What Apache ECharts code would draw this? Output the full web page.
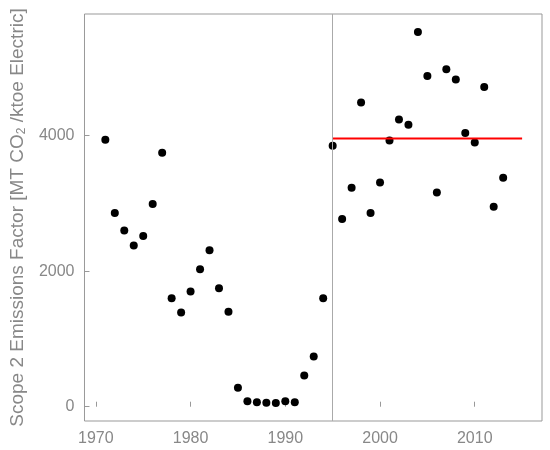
<!DOCTYPE html>
<html>
<head>
<meta charset="utf-8">
<script src="https://cdn.jsdelivr.net/npm/echarts@6/dist/echarts.min.js"></script>
<style>
	html, body { margin: 0; padding: 0; background: #fff; }
	#chart { width: 550px; height: 450px; }
</style>
</head>
<body>
<div id="chart"></div>
<script>
	// yearly emissions factor values
	const years = [1971, 1972, 1973, 1974, 1975, 1976, 1977, 1978, 1979, 1980,
		1981, 1982, 1983, 1984, 1985, 1986, 1987, 1988, 1989, 1990,
		1991, 1992, 1993, 1994, 1995, 1996, 1997, 1998, 1999, 2000,
		2001, 2002, 2003, 2004, 2005, 2006, 2007, 2008, 2009, 2010,
		2011, 2012, 2013];
	const factors = [3940, 2860, 2600, 2380, 2520, 2990, 3750, 1600, 1390, 1700,
		2030, 2310, 1750, 1400, 280, 80, 65, 60, 55, 80,
		65, 460, 740, 1600, 3850, 2770, 3230, 4490, 2860, 3310,
		3930, 4240, 4160, 5530, 4880, 3160, 4980, 4830, 4040, 3900,
		4720, 2950, 3380];
	const meanYears = [1995, 2015];
	const meanValue = 3960;
	const splitYear = 1995;
	const xTicks = [1970, 1980, 1990, 2000, 2010];
	const yTicks = [0, 2000, 4000];

	const gray = '#888';
	let chart = echarts.init(document.getElementById('chart'), null, {renderer: 'canvas'});

	let option = {
		animation: false,
		grid: {
			left: 82,
			right: 8,
			top: 14,
			bottom: 29,
			show: true,
			borderColor: '#999',
			borderWidth: 1,
			backgroundColor: 'transparent'
		},
		xAxis: {
			type: 'value',
			min: 1968.8,
			max: 2017.1,
			axisLine: { show: false },
			splitLine: { show: false },
			axisTick: {
				show: true,
				inside: true,
				length: 5,
				customValues: xTicks,
				lineStyle: { color: '#999' }
			},
			axisLabel: {
				customValues: xTicks,
				formatter: v => String(v),
				color: gray,
				fontSize: 16,
				fontFamily: 'Liberation Sans',
				margin: 10
			}
		},
		yAxis: {
			type: 'value',
			min: -211,
			max: 5796,
			name: '{t|Scope 2 Emissions Factor [MT CO}{sub|2}{t| /ktoe Electric]}',
			nameLocation: 'middle',
			nameGap: 54,
			nameTextStyle: {
				rich: {
					t: { fontSize: 19, color: gray, fontFamily: 'Liberation Sans' },
					sub: { fontSize: 12, color: gray, fontFamily: 'Liberation Sans', verticalAlign: 'bottom', padding: [9, 0, 0, 0] }
				}
			},
			axisLine: { show: false },
			splitLine: { show: false },
			axisTick: {
				show: true,
				inside: true,
				length: 5,
				customValues: yTicks,
				lineStyle: { color: '#999' }
			},
			axisLabel: {
				customValues: yTicks,
				formatter: v => String(v),
				color: gray,
				fontSize: 16,
				fontFamily: 'Liberation Sans',
				margin: 10
			}
		},
		series: [
			{
				type: 'scatter',
				data: years.map((y, i) => [y, factors[i]]),
				symbol: 'circle',
				symbolSize: 8,
				itemStyle: { color: '#000', opacity: 1 },
				z: 3,
				markLine: {
					silent: true,
					symbol: 'none',
					label: { show: false },
					lineStyle: { color: '#aaa', width: 1, type: 'solid' },
					data: [{ xAxis: splitYear }]
				}
			},
			{
				type: 'line',
				data: meanYears.map(y => [y, meanValue]),
				symbol: 'none',
				lineStyle: { color: '#ff0000', width: 2 },
				z: 4
			}
		]
	};

	chart.setOption(option);
</script>
</body>
</html>
